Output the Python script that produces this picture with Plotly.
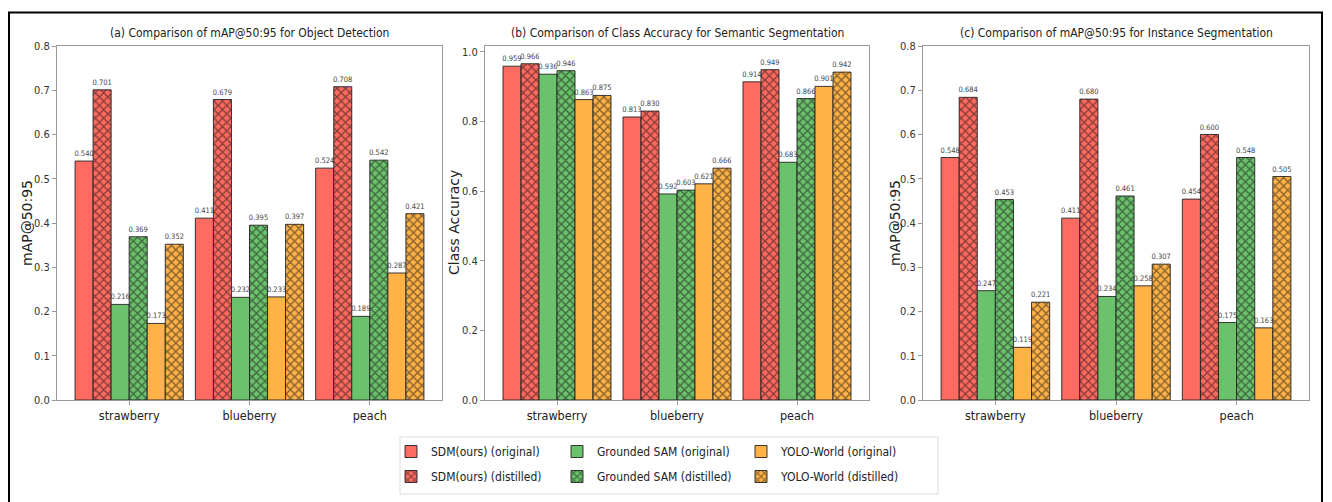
import plotly.graph_objects as go

categories = ["strawberry", "blueberry", "peach"]
series_names = ["SDM(ours) (original)", "SDM(ours) (distilled)",
                "Grounded SAM (original)", "Grounded SAM (distilled)",
                "YOLO-World (original)", "YOLO-World (distilled)"]

# (a) mAP@50:95 object detection
det_sdm_orig = [0.540, 0.411, 0.524]
det_sdm_dist = [0.701, 0.679, 0.708]
det_gsam_orig = [0.216, 0.232, 0.189]
det_gsam_dist = [0.369, 0.395, 0.542]
det_yolo_orig = [0.173, 0.233, 0.287]
det_yolo_dist = [0.352, 0.397, 0.421]

# (b) class accuracy semantic segmentation
sem_sdm_orig = [0.959, 0.813, 0.914]
sem_sdm_dist = [0.966, 0.830, 0.949]
sem_gsam_orig = [0.936, 0.592, 0.683]
sem_gsam_dist = [0.946, 0.603, 0.866]
sem_yolo_orig = [0.863, 0.621, 0.901]
sem_yolo_dist = [0.875, 0.666, 0.942]

# (c) mAP@50:95 instance segmentation
ins_sdm_orig = [0.548, 0.411, 0.454]
ins_sdm_dist = [0.684, 0.680, 0.600]
ins_gsam_orig = [0.247, 0.234, 0.175]
ins_gsam_dist = [0.453, 0.461, 0.548]
ins_yolo_orig = [0.119, 0.258, 0.163]
ins_yolo_dist = [0.221, 0.307, 0.505]

panel_titles = ["(a) Comparison of mAP@50:95 for Object Detection",
                "(b) Comparison of Class Accuracy for Semantic Segmentation",
                "(c) Comparison of mAP@50:95 for Instance Segmentation"]
y_titles = ["mAP@50:95", "Class Accuracy", "mAP@50:95"]

panels = [
    [det_sdm_orig, det_sdm_dist, det_gsam_orig, det_gsam_dist, det_yolo_orig, det_yolo_dist],
    [sem_sdm_orig, sem_sdm_dist, sem_gsam_orig, sem_gsam_dist, sem_yolo_orig, sem_yolo_dist],
    [ins_sdm_orig, ins_sdm_dist, ins_gsam_orig, ins_gsam_dist, ins_yolo_orig, ins_yolo_dist],
]

RED = "#FF6B61"
GREEN = "#6CC26C"
ORANGE = "#FFB347"
colors = [RED, RED, GREEN, GREEN, ORANGE, ORANGE]
hatched = [False, True, False, True, False, True]
legend_ids = ["legend", "legend", "legend2", "legend2", "legend3", "legend3"]

# page has an 8px body margin; figure placed at (8, 8)
OFF = 8
W, H = 1332 - OFF, 502 - OFF


def px(x):
    return (x - OFF) / W


def py(y):
    return 1 - (y - OFF) / H


COND = "DejaVu Sans Condensed, Liberation Sans Narrow, DejaVu Sans, sans-serif"
REG = "DejaVu Sans, sans-serif"

x_px = [(57, 442), (485, 869), (923, 1309)]
y_title_x = [27, 454, 895]
y_top, y_bot = 46, 400
y_ranges = [[0, 0.8], [0, 1.017], [0, 0.8]]
y_dticks = [0.1, 0.2, 0.1]

fig = go.Figure()

for p, series in enumerate(panels):
    ax = "" if p == 0 else str(p + 1)
    for i, vals in enumerate(series):
        pattern = dict(shape="x", fgcolor="#111111", bgcolor=colors[i], size=6, solidity=0.42) if hatched[i] else dict(shape="")
        fig.add_trace(go.Bar(
            x=categories, y=vals, name=series_names[i],
            xaxis="x" + ax, yaxis="y" + ax,
            marker=dict(color=colors[i], line=dict(color="#222222", width=0.9), pattern=pattern),
            texttemplate="%{y:.3f}", textposition="outside", constraintext="none",
            textfont=dict(family=COND, size=7.5, color="#444444"),
            cliponaxis=False,
            showlegend=(p == 0), legend=legend_ids[i], legendgroup=series_names[i],
        ))

layout = dict(
    width=W, height=H,
    margin=dict(l=0, r=0, t=0, b=0, autoexpand=False),
    paper_bgcolor="white", plot_bgcolor="white",
    barmode="group", bargap=0.1, bargroupgap=0,
    showlegend=True,
)

for p in range(3):
    ax = "" if p == 0 else str(p + 1)
    x0, x1 = x_px[p]
    layout["xaxis" + ax] = dict(
        domain=[px(x0), px(x1)], anchor="y" + ax, range=[-0.6, 2.6],
        showline=True, linecolor="#9a9a9a", linewidth=1, mirror=True,
        ticks="outside", ticklen=4, tickcolor="#9a9a9a",
        tickfont=dict(family=COND, size=12.5, color="#222222"), showgrid=False,
    )
    layout["yaxis" + ax] = dict(
        domain=[py(y_bot), py(y_top)], anchor="x" + ax,
        range=y_ranges[p], dtick=y_dticks[p], tickformat=".1f",
        showline=True, linecolor="#9a9a9a", linewidth=1, mirror=True,
        ticks="outside", ticklen=4, tickcolor="#9a9a9a",
        tickfont=dict(family=COND, size=11, color="#333333"),
        showgrid=False, zeroline=False,
    )

leg_common = dict(orientation="v", xanchor="left", yanchor="top", y=py(437),
                  bgcolor="rgba(0,0,0,0)", borderwidth=0, tracegroupgap=6,
                  font=dict(family=COND, size=12, color="#222222"))
layout["legend"] = dict(x=px(391), **leg_common)
layout["legend2"] = dict(x=px(557), **leg_common)
layout["legend3"] = dict(x=px(741), **leg_common)

annotations = []
for p in range(3):
    x0, x1 = x_px[p]
    annotations.append(dict(text=panel_titles[p], x=px((x0 + x1) / 2), y=py(33),
                            xref="paper", yref="paper", showarrow=False,
                            xanchor="center", yanchor="middle",
                            font=dict(family=COND, size=12, color="#222222")))
    annotations.append(dict(text=y_titles[p], x=px(y_title_x[p]), y=py((y_top + y_bot) / 2),
                            xref="paper", yref="paper", showarrow=False, textangle=-90,
                            xanchor="center", yanchor="middle",
                            font=dict(family=REG, size=14, color="#222222")))
layout["annotations"] = annotations

layout["shapes"] = [
    dict(type="rect", xref="paper", yref="paper", x0=px(9), x1=px(1322), y0=-0.1, y1=py(12.5),
         line=dict(color="black", width=2)),
    dict(type="rect", xref="paper", yref="paper", x0=px(400), x1=px(938), y0=py(494), y1=py(437),
         line=dict(color="#dddddd", width=1)),
]

fig.update_layout(**layout)
fig.write_html("out.html")
